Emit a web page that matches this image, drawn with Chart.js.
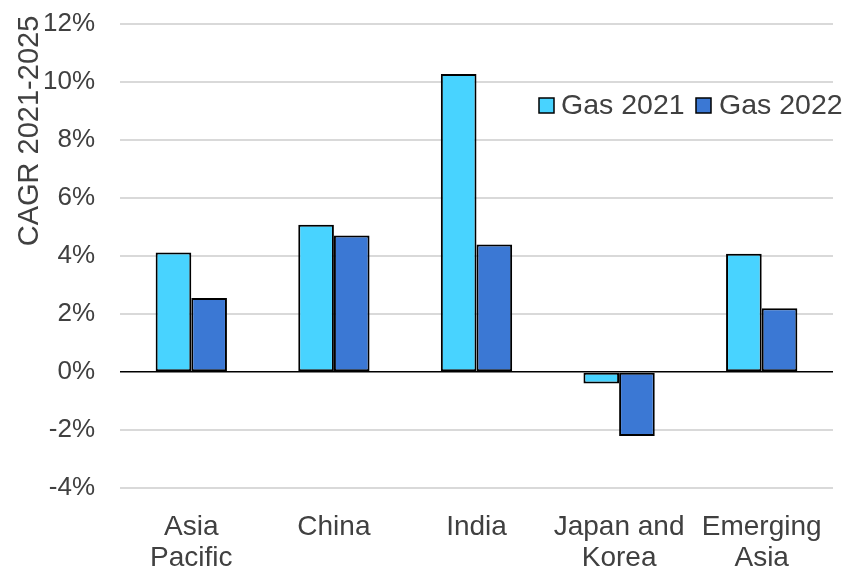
<!DOCTYPE html>
<html>
<head>
<meta charset="utf-8">
<script src="https://cdn.jsdelivr.net/npm/chart.js@4/dist/chart.umd.min.js"></script>
<style>
  html, body { margin: 0; padding: 0; background: #ffffff; }
  #wrap { width: 848px; height: 569px; position: relative; }
</style>
</head>
<body>
<div id="wrap"><canvas id="c" width="848" height="569"></canvas></div>
<script>
const categories = [["Asia", "Pacific"], "China", "India", ["Japan and", "Korea"], ["Emerging", "Asia"]];
const gas2021 = [4.12, 5.08, 10.28, -0.40, 4.08];
const gas2022 = [2.55, 4.71, 4.40, -2.21, 2.20];
const seriesNames = ["Gas 2021", "Gas 2022"];
const yTitle = "CAGR 2021-2025";
const yMin = -4, yMax = 12, yStep = 2;

const FONT = "'Liberation Sans', Arial, sans-serif";
const TEXT = "#404040";
const colors = ["#48D3FF", "#3B78D4"];

const overlay = {
  id: 'overlay',
  afterDraw(chart) {
    const ctx = chart.ctx;
    ctx.save();
    // y-axis title
    ctx.font = "29px " + FONT;
    ctx.fillStyle = TEXT;
    ctx.translate(30, 131);
    ctx.rotate(-Math.PI / 2);
    ctx.textAlign = 'center';
    ctx.textBaseline = 'middle';
    ctx.fillText(yTitle, 0, 0);
    ctx.restore();

    // legend
    ctx.save();
    ctx.font = "28.5px " + FONT;
    ctx.textBaseline = 'middle';
    const items = [{x: 539, tx: 561}, {x: 696, tx: 719}];
    items.forEach((it, i) => {
      ctx.fillStyle = colors[i];
      ctx.fillRect(it.x, 98, 15, 15);
      ctx.strokeStyle = '#000';
      ctx.lineWidth = 1.5;
      ctx.strokeRect(it.x, 98, 15, 15);
      ctx.fillStyle = TEXT;
      ctx.fillText(seriesNames[i], it.tx, 106);
    });
    ctx.restore();
  }
};

new Chart(document.getElementById('c'), {
  type: 'bar',
  data: {
    labels: categories,
    datasets: [
      { label: seriesNames[0], data: gas2021, backgroundColor: colors[0], borderColor: '#000', borderWidth: 2, borderSkipped: false },
      { label: seriesNames[1], data: gas2022, backgroundColor: colors[1], borderColor: '#000', borderWidth: 2, borderSkipped: false }
    ]
  },
  options: {
    responsive: false,
    animation: false,
    devicePixelRatio: 1,
    layout: { padding: { left: 0, right: 15, top: 24, bottom: 0 } },
    datasets: { bar: { categoryPercentage: 0.5, barPercentage: 1.0 } },
    plugins: {
      legend: { display: false },
      tooltip: { enabled: false },
      title: { display: false }
    },
    scales: {
      x: {
        grid: { display: false, drawTicks: false },
        border: { display: false },
        ticks: {
          color: TEXT,
          font: { family: FONT, size: 28, lineHeight: 1.1 },
          padding: 24,
          maxRotation: 0,
          autoSkip: false
        },
        afterFit(s) { s.height = 81; s.paddingLeft = 0; s.paddingRight = 0; }
      },
      y: {
        min: yMin, max: yMax,
        grid: {
          drawTicks: false,
          color: (ctx) => ctx.tick && ctx.tick.value === 0 ? '#000000' : '#d9d9d9',
          lineWidth: (ctx) => ctx.tick && ctx.tick.value === 0 ? 1.5 : 2
        },
        border: { display: false },
        ticks: {
          stepSize: yStep,
          color: TEXT,
          font: { family: FONT, size: 26 },
          padding: 25,
          callback: (v) => v + '%'
        },
        afterFit(s) { s.width = 120; s.paddingTop = 0; s.paddingBottom = 0; }
      }
    }
  },
  plugins: [overlay]
});
</script>
</body>
</html>
